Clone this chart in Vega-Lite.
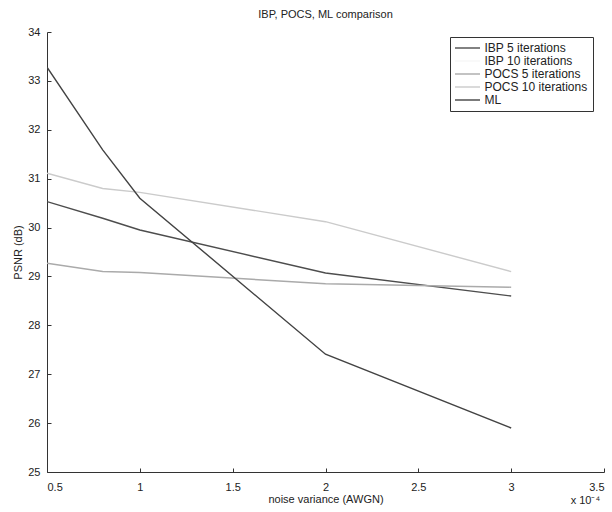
{
  "$schema": "https://vega.github.io/schema/vega-lite/v6.json",
  "width": 557,
  "height": 440,
  "autosize": {"type": "none"},
  "padding": {"left": 47, "top": 32, "right": 8, "bottom": 40},
  "background": "white",
  "config": {
    "font": "Liberation Sans",
    "view": {"stroke": null},
    "axis": {
      "grid": false,
      "domainColor": "#333333",
      "tickColor": "#333333",
      "labelColor": "#222222",
      "titleColor": "#222222",
      "labelFontSize": 11,
      "titleFontSize": 11,
      "titleFontWeight": "normal",
      "ticks": true,
      "tickSize": -4
    }
  },
  "title": {
    "text": "IBP, POCS, ML comparison",
    "fontSize": 11,
    "fontWeight": "normal",
    "color": "#222222",
    "anchor": "middle",
    "offset": 6
  },
  "data": {
    "values": [
      {"series": "IBP 5 iterations", "x": 0.5, "psnr": 30.53},
      {"series": "IBP 5 iterations", "x": 0.8, "psnr": 30.19},
      {"series": "IBP 5 iterations", "x": 1.0, "psnr": 29.95},
      {"series": "IBP 5 iterations", "x": 2.0, "psnr": 29.07},
      {"series": "IBP 5 iterations", "x": 3.0, "psnr": 28.6},
      {"series": "POCS 5 iterations", "x": 0.5, "psnr": 29.27},
      {"series": "POCS 5 iterations", "x": 0.8, "psnr": 29.1},
      {"series": "POCS 5 iterations", "x": 1.0, "psnr": 29.08},
      {"series": "POCS 5 iterations", "x": 2.0, "psnr": 28.85},
      {"series": "POCS 5 iterations", "x": 3.0, "psnr": 28.78},
      {"series": "POCS 10 iterations", "x": 0.5, "psnr": 31.11},
      {"series": "POCS 10 iterations", "x": 0.8, "psnr": 30.8},
      {"series": "POCS 10 iterations", "x": 1.0, "psnr": 30.72},
      {"series": "POCS 10 iterations", "x": 2.0, "psnr": 30.12},
      {"series": "POCS 10 iterations", "x": 3.0, "psnr": 29.1},
      {"series": "ML", "x": 0.5, "psnr": 33.28},
      {"series": "ML", "x": 0.8, "psnr": 31.59},
      {"series": "ML", "x": 1.0, "psnr": 30.6},
      {"series": "ML", "x": 2.0, "psnr": 27.41},
      {"series": "ML", "x": 3.0, "psnr": 25.9}
    ]
  },
  "layer": [
    {
      "mark": {"type": "line", "strokeWidth": 1.4, "clip": true},
      "encoding": {
        "x": {
          "field": "x",
          "type": "quantitative",
          "scale": {"domain": [0.5, 3.5], "nice": false, "zero": false},
          "axis": {
            "values": [0.5, 1, 1.5, 2, 2.5, 3, 3.5],
            "format": "~g",
            "labelPadding": 13,
            "tickSize": -4,
            "title": "noise variance (AWGN)",
            "titlePadding": 1
          }
        },
        "y": {
          "field": "psnr",
          "type": "quantitative",
          "scale": {"domain": [25, 34], "nice": false, "zero": false},
          "axis": {
            "values": [25, 26, 27, 28, 29, 30, 31, 32, 33, 34],
            "labelPadding": 11,
            "tickSize": -4,
            "title": "PSNR (dB)",
            "titlePadding": 4
          }
        },
        "color": {
          "field": "series",
          "type": "nominal",
          "scale": {
            "domain": ["IBP 5 iterations", "IBP 10 iterations", "POCS 5 iterations", "POCS 10 iterations", "ML"],
            "range": ["#4d4d4d", "#f6f6f6", "#aaaaaa", "#cbcbcb", "#434343"]
          },
          "legend": {
            "title": null,
            "orient": "none",
            "legendX": 403,
            "legendY": 5,
            "strokeColor": "#333333",
            "fillColor": "white",
            "padding": 5,
            "symbolType": "M-2.5,0H2.5",
            "symbolSize": 100,
            "symbolOffset": 6.5,
            "symbolStrokeWidth": 1.4,
            "labelFontSize": 12,
            "labelColor": "#222222",
            "rowPadding": 1,
            "labelOffset": 11
          }
        }
      }
    },
    {
      "data": {"values": [{"label": "x 10⁻⁴", "x": 3.4, "y": 24.4}]},
      "mark": {"type": "text", "fontSize": 11, "color": "#222222", "align": "center"},
      "encoding": {
        "x": {"field": "x", "type": "quantitative"},
        "y": {"field": "y", "type": "quantitative"},
        "text": {"field": "label"}
      }
    }
  ]
}
